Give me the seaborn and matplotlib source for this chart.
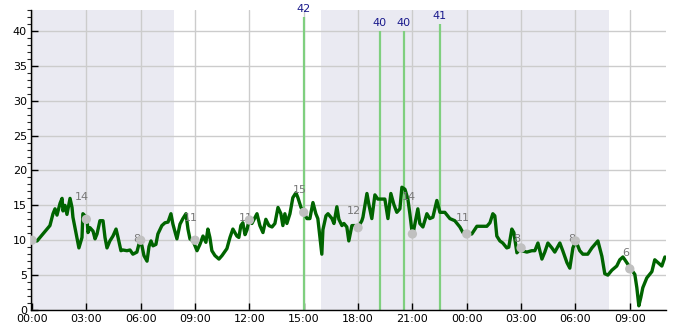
import matplotlib
matplotlib.use("Agg")
import matplotlib.pyplot as plt
from matplotlib.ticker import MultipleLocator, FuncFormatter
import seaborn as sns
import pandas as pd

# ---- data (hours since 00:00 of day 1) ----
line_hours = [
    0.0, 0.28, 0.99, 1.16, 1.27, 1.38, 1.55, 1.66, 1.71, 1.82, 1.93, 2.10, 2.21, 2.26,
    2.48, 2.59, 2.76, 2.81, 2.92, 3.04, 3.09, 3.20, 3.37, 3.48, 3.59, 3.75, 3.92, 4.03,
    4.14, 4.30, 4.47, 4.64, 4.75, 4.91, 5.02, 5.24, 5.41, 5.57, 5.79, 5.91,
    5.96, 6.07, 6.18, 6.35, 6.46, 6.57, 6.68, 6.84, 6.95, 7.17, 7.34, 7.51, 7.67, 7.78,
    8.00, 8.17, 8.33, 8.50, 8.61, 8.72, 8.89, 9.11, 9.27, 9.44, 9.60, 9.71, 9.82, 9.93,
    10.10, 10.32, 10.49, 10.76, 10.93, 11.09, 11.31, 11.42, 11.53, 11.64,
    11.76, 11.87, 11.98, 12.14, 12.42, 12.58, 12.75, 12.91, 13.08, 13.25, 13.41, 13.58,
    13.74, 13.85, 13.96, 14.07, 14.24, 14.40, 14.57, 14.68, 14.85, 15.01, 15.18, 15.34,
    15.51, 15.67, 15.78, 16.00, 16.06, 16.23, 16.34, 16.56, 16.67, 16.83, 16.94, 17.11,
    17.22, 17.38, 17.49,
    17.66, 17.83, 17.99, 18.21, 18.27, 18.49, 18.60, 18.76, 18.93, 19.09, 19.32, 19.48,
    19.65, 19.81, 19.98, 20.14, 20.31, 20.42, 20.59, 20.75, 20.86, 20.97, 21.03, 21.14,
    21.30, 21.41, 21.58, 21.80, 21.96, 22.13, 22.35, 22.52, 22.79, 23.07, 23.34,
    23.62, 23.79, 24.01, 24.28, 24.56, 25.11, 25.28, 25.44, 25.55, 25.66, 25.83, 25.99,
    26.21, 26.32, 26.49, 26.60, 26.77, 26.99, 27.04, 27.32, 27.59, 27.76, 27.93, 28.15,
    28.31, 28.48, 28.70, 28.86,
    29.14, 29.30, 29.53, 29.69, 29.86, 30.02, 30.24, 30.41, 30.68, 30.91, 31.24, 31.46,
    31.62, 31.79, 32.01, 32.28, 32.45, 32.62, 32.73, 33.06, 33.28, 33.39, 33.50, 33.61,
    33.72, 33.94, 34.22, 34.38, 34.55, 34.77, 34.94,
]
line_values = [
    10.0, 9.9, 12.1, 13.8, 14.5, 13.6, 15.3, 16.0, 14.2, 15.0, 13.7, 16.0, 14.7, 13.3,
    10.4, 8.9, 10.4, 13.8, 13.5, 13.1, 11.1, 11.8, 11.3, 10.2, 10.9, 12.8, 12.8, 10.4,
    8.9, 9.9, 10.6, 11.6, 10.4, 8.5, 8.6, 8.5, 8.6, 8.0, 8.3, 9.5,
    10.0, 9.2, 7.8, 7.0, 9.1, 9.9, 9.2, 9.4, 10.9, 12.1, 12.5, 12.6, 13.8, 12.3,
    10.2, 12.3, 13.1, 13.8, 11.6, 10.2, 9.9, 8.5, 9.4, 10.6, 9.7, 11.6, 10.4, 8.5,
    7.8, 7.3, 7.8, 8.8, 10.4, 11.6, 10.6, 10.4, 12.1, 12.5,
    10.8, 11.5, 12.9, 12.4, 13.8, 12.1, 11.1, 13.0, 12.1, 11.9, 12.4, 14.7,
    13.8, 12.1, 13.8, 12.4, 13.8, 16.1, 16.8, 16.1, 14.7, 14.0, 13.1, 13.1,
    15.4, 13.8, 13.1, 8.0, 11.5, 13.5, 13.8, 13.1, 12.4, 14.8, 13.0, 12.1,
    12.4, 11.9, 9.9,
    12.1, 12.1, 11.8, 12.8, 13.3, 16.7, 15.1, 13.1, 16.5, 15.9, 15.9, 15.9,
    13.1, 16.7, 15.1, 14.0, 14.5, 17.6, 17.3, 15.9, 13.8, 11.4, 10.9, 12.4,
    14.5, 12.4, 11.9, 13.8, 13.1, 13.3, 15.7, 14.0, 14.0, 13.1, 12.8,
    11.9, 11.1, 10.9, 10.9, 12.0, 12.0, 12.5, 13.8, 13.5, 10.6, 9.9, 9.6,
    8.9, 9.0, 11.6, 11.1, 8.2, 8.9, 8.5, 8.3, 8.5, 8.5, 9.6, 7.3,
    8.3, 9.6, 8.9, 8.3,
    9.6, 8.5, 6.8, 6.0, 8.9, 9.9, 8.5, 8.0, 8.0, 8.9, 9.9, 7.7,
    5.2, 5.0, 5.7, 6.3, 7.2, 7.6, 7.2, 5.9, 5.1, 3.2, 0.6, 1.8,
    3.2, 4.6, 5.5, 7.2, 6.8, 6.3, 7.6,
]

point_hours = [0, 3, 6, 9, 12, 15, 18, 21, 24, 27, 30, 33]
point_values = [10.0, 13.0, 10.0, 10.0, 12.9, 14.0, 11.8, 10.9, 10.9, 8.9, 9.9, 5.9]
point_labels = ["", "14", "8", "11", "11", "15", "12", "14", "11", "8", "8", "6"]
point_label_values = [None, 14, 8, 11, 11, 15, 12, 14, 11, 8, 8, 6]

peak_hours = [15.0, 19.2, 20.53, 22.52]
peak_values = [42, 40, 40, 41]

night_spans = [(-1.0, 7.85), (15.96, 31.88)]

tick_hours = list(range(0, 34, 3))

# ---- figure ----
sns.set_style("white")
plt.rcParams["font.family"] = ["DejaVu Sans"]

fig = plt.figure(figsize=(6.85, 3.3), dpi=100)
ax = fig.add_axes([31 / 685, 20 / 330, 635 / 685, 300 / 330])

for s, e in night_spans:
    ax.axvspan(s, e, color="#eaeaf2", lw=0, zorder=0)

ax.set_axisbelow(True)
ax.grid(True, color="#cccccc", lw=1, zorder=1)

df_line = pd.DataFrame({"h": line_hours, "v": line_values})
sns.lineplot(data=df_line, x="h", y="v", ax=ax, color="#006400", lw=2.4,
             sort=False, estimator=None, zorder=3)

ax.vlines(peak_hours, 0, peak_values, color="#7fcf7f", lw=1.6, zorder=2)
for h, v in zip(peak_hours, peak_values):
    ax.annotate(str(v), xy=(h, v), xytext=(0, 3), textcoords="offset pixels",
                ha="center", va="bottom", fontsize=8, color="#1a1a8c",
                annotation_clip=False)

df_pts = pd.DataFrame({"h": point_hours, "v": point_values})
sns.scatterplot(data=df_pts, x="h", y="v", ax=ax, color="#c0c0c0", s=45,
                edgecolor="none", zorder=4)
for h, lab, lv in zip(point_hours, point_labels, point_label_values):
    if lab:
        ax.annotate(lab, xy=(h, lv), xytext=(-4, 15), textcoords="offset pixels",
                    ha="center", va="center", fontsize=8, color="#777777")

ax.set_xlim(-0.055, 35.0)
ax.set_ylim(0, 43)
ax.set_xticks(tick_hours)
ax.xaxis.set_major_formatter(FuncFormatter(lambda x, p: f"{int(round(x)) % 24:02d}:00"))
ax.yaxis.set_major_locator(MultipleLocator(5))
ax.yaxis.set_minor_locator(MultipleLocator(1))
ax.tick_params(axis="both", direction="in", labelsize=8, colors="black", pad=3)
ax.tick_params(axis="y", which="major", length=5, width=1, left=True)
ax.tick_params(axis="y", which="minor", length=3, width=0.8, left=True)
ax.tick_params(axis="x", which="major", length=5, width=1, bottom=True)
ax.set_xlabel("")
ax.set_ylabel("")

for side in ["top", "right"]:
    ax.spines[side].set_visible(False)
for side in ["left", "bottom"]:
    ax.spines[side].set_color("black")
    ax.spines[side].set_linewidth(1)

fig.savefig("out.png", dpi=100)
